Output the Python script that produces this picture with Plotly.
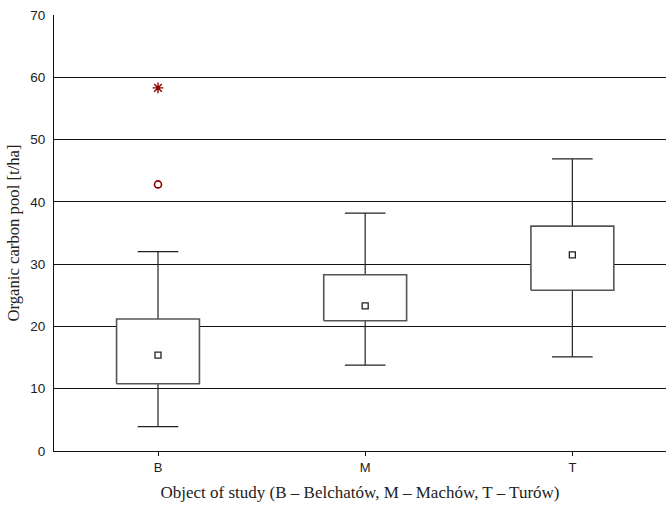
import plotly.graph_objects as go

categories = ["B", "M", "T"]
q1 = [10.8, 20.9, 25.8]
median = [15.4, 23.3, 31.5]
q3 = [21.2, 28.3, 36.1]
whisker_low = [3.9, 13.8, 15.1]
whisker_high = [32.0, 38.2, 46.9]
outliers_circle = [42.8, None, None]
outliers_star = [58.3, None, None]
y_ticks = [0, 10, 20, 30, 40, 50, 60, 70]

BOX_HALF = 0.2
CAP_HALF = 0.098

fig = go.Figure()

# whiskers and caps
wx, wy = [], []
for i in range(len(categories)):
    wx += [i, i, None, i, i, None,
           i - CAP_HALF, i + CAP_HALF, None, i - CAP_HALF, i + CAP_HALF, None]
    wy += [q3[i], whisker_high[i], None, q1[i], whisker_low[i], None,
           whisker_high[i], whisker_high[i], None, whisker_low[i], whisker_low[i], None]
fig.add_trace(go.Scatter(x=wx, y=wy, mode="lines",
                         line=dict(color="#222222", width=1.2),
                         hoverinfo="skip", showlegend=False))

# boxes
bx, by = [], []
for i in range(len(categories)):
    bx += [i - BOX_HALF, i + BOX_HALF, i + BOX_HALF, i - BOX_HALF, i - BOX_HALF, None]
    by += [q1[i], q1[i], q3[i], q3[i], q1[i], None]
fig.add_trace(go.Scatter(x=bx, y=by, mode="lines", fill="toself",
                         fillcolor="white",
                         line=dict(color="#555555", width=1.6),
                         hoverinfo="skip", showlegend=False))

# medians
fig.add_trace(go.Scatter(x=list(range(len(categories))), y=median, mode="markers",
                         marker=dict(symbol="square-open", size=6,
                                     color="#222222", line=dict(width=1.3)),
                         showlegend=False))

# outliers
cx = [i for i, v in enumerate(outliers_circle) if v is not None]
cy = [v for v in outliers_circle if v is not None]
fig.add_trace(go.Scatter(x=cx, y=cy, mode="markers",
                         marker=dict(symbol="circle-open", size=7,
                                     color="#8b0000", line=dict(width=1.6)),
                         showlegend=False))
sx = [i for i, v in enumerate(outliers_star) if v is not None]
sy = [v for v in outliers_star if v is not None]
fig.add_trace(go.Scatter(x=sx, y=sy, mode="markers",
                         marker=dict(symbol="asterisk-open", size=9,
                                     color="#8b0000", line=dict(width=1.4, color="#8b0000")),
                         showlegend=False))

serif = "Liberation Serif, Times New Roman, serif"
fig.update_layout(
    width=666, height=507,
    margin=dict(l=54, r=0, t=15, b=56),
    plot_bgcolor="white", paper_bgcolor="white",
    font=dict(family="Liberation Sans, Arial, sans-serif", size=13, color="#222222"),
    xaxis=dict(
        range=[-0.502, 2.452],
        tickvals=list(range(len(categories))), ticktext=categories,
        showgrid=False, zeroline=False,
        showline=True, linecolor="#111111", linewidth=1,
        ticks="outside", ticklen=4, tickcolor="#111111",
        tickfont=dict(size=13),
        title=dict(text="Object of study (B – Belchatów, M – Machów, T – Turów)",
                   font=dict(family=serif, size=17, color="#222222"),
                   standoff=12),
    ),
    yaxis=dict(
        range=[0, 70],
        tickvals=y_ticks,
        showgrid=True, gridcolor="#111111", gridwidth=1,
        zeroline=False,
        showline=True, linecolor="#111111", linewidth=1,
        ticks="", tickfont=dict(size=13.5),
        ticklabelstandoff=5,
        title=dict(text="Organic carbon pool [t/ha]",
                   font=dict(family=serif, size=16.7, color="#222222"),
                   standoff=6),
    ),
)

fig.write_html("out.html")
